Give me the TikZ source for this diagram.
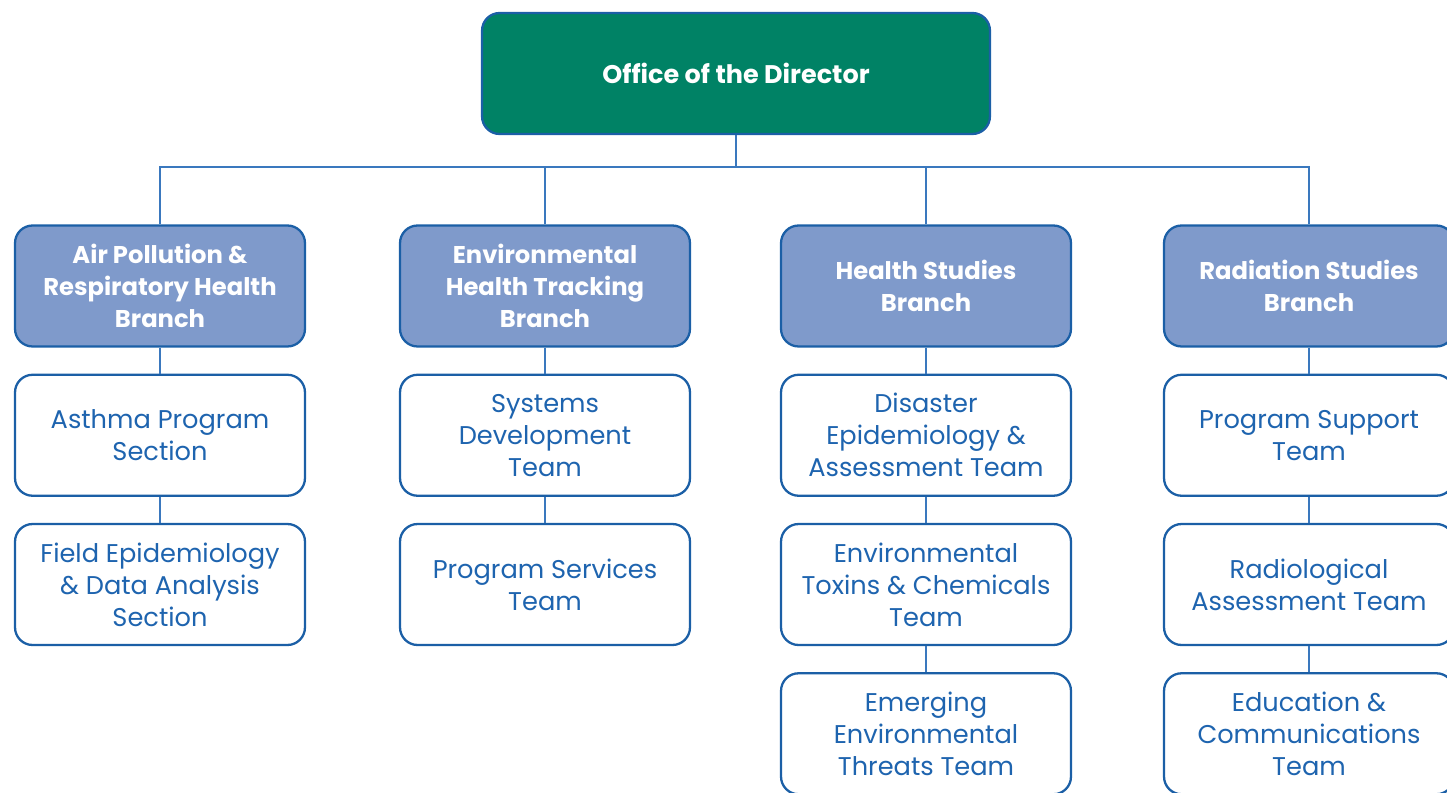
\documentclass[tikz,border=0pt]{standalone}
\usepackage{fontspec}
\setmainfont{Poppins}
\usepackage{tikz}
\usetikzlibrary{positioning}

\definecolor{dirgreen}{HTML}{008265}
\definecolor{branchfill}{HTML}{7F9ACB}
\definecolor{edgeblue}{HTML}{1B5FA6}
\definecolor{textblue}{HTML}{1E64AF}
\definecolor{lineblue}{HTML}{3A78BE}

\tikzset{
    box/.style={draw=edgeblue, line width=1.3pt, rounded corners=10pt, align=center,
        minimum width=5.8cm, minimum height=2.42cm},
    director/.style={box, fill=dirgreen, text=white, minimum width=10.16cm,
        font=\fontsize{14.5}{18.2}\selectfont\bfseries},
    branchbox/.style={box, fill=branchfill, text=white, font=\fontsize{13.8}{18.2}\selectfont\bfseries},
    teambox/.style={box, fill=white, text=textblue, font=\fontsize{14.6}{18.2}\selectfont},
    link/.style={draw=lineblue, line width=0.8pt},
}

\begin{document}
\begin{tikzpicture}[x=0.02cm, y=-0.02cm, node distance=0.52cm]
    \useasboundingbox (0,0) rectangle (1447,793);
    % Top of the chart
    \node[director] (dir) at (736,73.5) {Office of the Director};
    % Branches
    \node[branchbox] (air) at (160,286) {Air Pollution \&\\Respiratory Health\\Branch};
    \node[branchbox] (track) at (545,286) {Environmental\\Health Tracking\\Branch};
    \node[branchbox] (health) at (926,286) {Health Studies\\Branch};
    \node[branchbox] (rad) at (1309,286) {Radiation Studies\\Branch};
    % Sections and teams
    \node[teambox, below=of air] (asthma) {Asthma Program\\Section};
    \node[teambox, below=of asthma] (field) {Field Epidemiology\\\& Data Analysis\\Section};
    \node[teambox, below=of track] (sysdev) {Systems\\Development\\Team};
    \node[teambox, below=of sysdev] (progserv) {Program Services\\Team};
    \node[teambox, below=of health] (disaster) {Disaster\\Epidemiology \&\\Assessment Team};
    \node[teambox, below=of disaster] (toxins) {Environmental\\Toxins \& Chemicals\\Team};
    \node[teambox, below=of toxins] (threats) {Emerging\\Environmental\\Threats Team};
    \node[teambox, below=of rad] (support) {Program Support\\Team};
    \node[teambox, below=of support] (radassess) {Radiological\\Assessment Team};
    \node[teambox, below=of radassess] (educ) {Education \&\\Communications\\Team};
    % Connectors
    \coordinate (bus) at (0,167);
    \draw[link] (dir.south) -- (dir.south |- bus);
    \draw[link] (air.north) |- (rad.north |- bus) -- (rad.north);
    \draw[link] (track.north) -- (track.north |- bus);
    \draw[link] (health.north) -- (health.north |- bus);
    \draw[link] (air) -- (asthma) -- (field);
    \draw[link] (track) -- (sysdev) -- (progserv);
    \draw[link] (health) -- (disaster) -- (toxins) -- (threats);
    \draw[link] (rad) -- (support) -- (radassess) -- (educ);
\end{tikzpicture}
\end{document}
